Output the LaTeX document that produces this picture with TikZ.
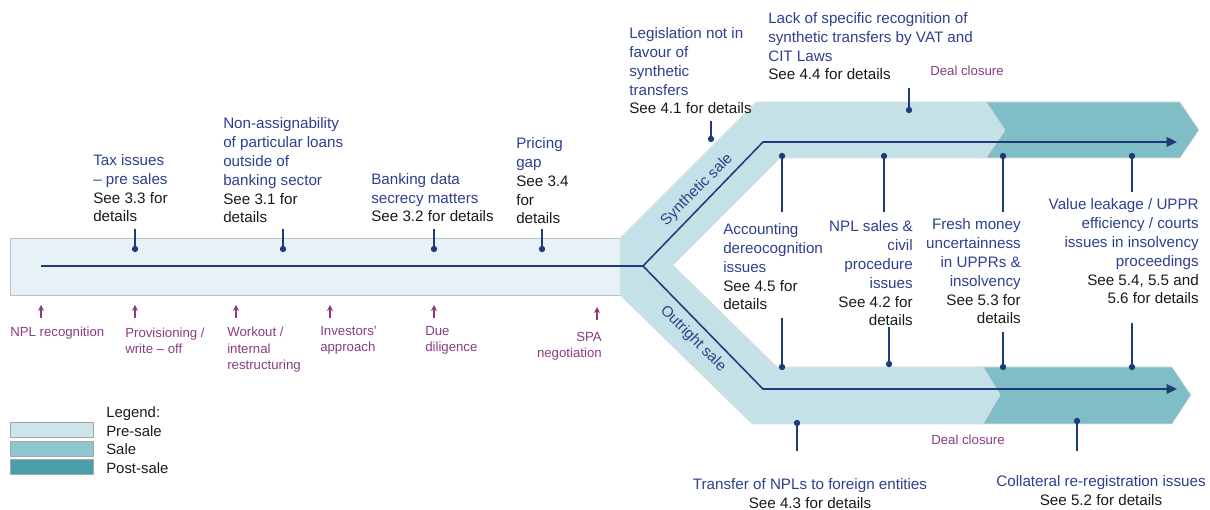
\documentclass[tikz,border=0pt]{standalone}
\usepackage{fontspec}
\setmainfont{Liberation Sans}
\usepackage{tikz}
\usetikzlibrary{arrows.meta}
\definecolor{barfill}{HTML}{E6F2F5}
\definecolor{bandlt}{HTML}{C4E1E7}
\definecolor{banddk}{HTML}{7FBDC7}
\definecolor{legpre}{HTML}{CCE6EB}
\definecolor{legsale}{HTML}{8EC6CF}
\definecolor{legpost}{HTML}{4B9EAC}
\definecolor{issblue}{HTML}{2E3F8F}
\definecolor{navy}{HTML}{1D3A7A}
\definecolor{milpurple}{HTML}{8A3B84}
\definecolor{seeblk}{HTML}{1A1A1A}
\newcommand{\issfont}{\fontsize{10.8}{13.5}\selectfont}
\newcommand{\milfont}{\fontsize{9.4}{11.8}\selectfont}
\newcommand{\seeref}[1]{\textcolor{seeblk}{#1}}
\tikzset{
  gdot/.style={circle, fill=navy, inner sep=0pt, minimum size=4.5pt},
  stemln/.style={navy, line width=1.1pt},
  tline/.style={navy, line width=1.1pt},
  tarr/.style={tline, -{Triangle[length=2.6mm, width=2.4mm]}},
  iss/.style={font=\issfont, text=issblue, inner sep=0pt, align=left},
  issr/.style={iss, align=right},
  issc/.style={iss, align=center},
  mil/.style={-{Stealth[length=1.5mm, width=1.5mm]}, milpurple, line width=0.8pt},
  mlab/.style={font=\milfont, text=milpurple, inner sep=0pt, align=left},
  barln/.style={draw=black!25, line width=0.5pt},
  bandln/.style={draw=black!12, line width=0.4pt},
  legbox/.style={draw=black!35, line width=0.4pt},
  legtxt/.style={font=\fontsize{10.6}{13}\selectfont, text=seeblk, inner sep=0pt, anchor=base west},
}
\begin{document}
\begin{tikzpicture}[x=0.025cm, y=-0.025cm]
  \useasboundingbox (0,0) rectangle (1210,510);

  % pre-sale bar
  \fill[barfill] (10,238) rectangle (640,295);
  \draw[barln] (640,238) -- (10,238) -- (10,295) -- (640,295);

  % synthetic branch
  \fill[banddk, bandln] (978,102) -- (1180,102) -- (1199,130) -- (1180,158) -- (978,158) -- cycle;
  \fill[bandlt, bandln] (620,238) -- (756,102) -- (986,102) -- (1005,130) -- (986,158)
    -- (780,158) -- (673,265) -- (620,265) -- cycle;
  % outright branch
  \fill[banddk, bandln] (975,367) -- (1172,367) -- (1191,395) -- (1172,424) -- (975,424) -- cycle;
  \fill[bandlt, bandln] (620,295) -- (752,424) -- (983,424) -- (1000,395) -- (983,367)
    -- (777,367) -- (673,265) -- (620,265) -- cycle;
  \fill[bandlt] (621,239) rectangle (640,294);

  % time lines
  \coordinate (lnStart) at (41,266);
  \coordinate (lnFork) at (643,266);
  \coordinate (synBend) at (763,142);
  \coordinate (synTip) at (1177,142);
  \coordinate (outBend) at (763,389);
  \coordinate (outTip) at (1177,389);
  \draw[tline] (lnStart) -- (lnFork);
  \draw[tarr] (lnFork) -- (synBend) -- (synTip);
  \draw[tarr] (lnFork) -- (outBend) -- (outTip);

  \node[font=\issfont, text=issblue, rotate=45] (synLab) at (697,190) {Synthetic sale};
  \node[font=\issfont, text=issblue, rotate=-45] (outLab) at (693,339) {Outright sale};

  % issue pins
  \foreach \nm/\px/\py/\ey in {tax/135/249/229, nonas/283/249/229, bank/434/249/229,
      price/542/249/229, legis/711/139/121, lack/909/110/88,
      accS/782/156/212, nplS/884/156/212, freshS/1003/156/212, valS/1132/156/192,
      accO/782/367/318, nplO/889/364/327, freshO/1003/367/332, valO/1132/367/323,
      trans/797/423/451, coll/1077/421/451}{
    \coordinate (e\nm) at (\px,\ey);
    \node[gdot] (d\nm) at (\px,\py) {};
    \draw[stemln] (e\nm) -- (d\nm);
  }

  % issue texts (anchored at the last line)
  \node[iss, anchor=base west] (taxTxt) at (93,222)
    {Tax issues\\– pre sales\\\seeref{See 3.3 for}\\\seeref{details}};
  \node[iss, anchor=base west] (nonasTxt) at (223,223)
    {Non-assignability\\of particular loans\\outside of\\banking sector\\\seeref{See 3.1 for}\\\seeref{details}};
  \node[iss, anchor=base west] (bankTxt) at (371,222)
    {Banking data\\secrecy matters\\\seeref{See 3.2 for details}};
  \node[iss, anchor=base west] (priceTxt) at (516,224)
    {Pricing\\gap\\\seeref{See 3.4}\\\seeref{for}\\\seeref{details}};
  \node[iss, anchor=base west] (legisTxt) at (629,114)
    {Legislation not in\\favour of\\synthetic\\transfers\\\seeref{See 4.1 for details}};
  \node[iss, anchor=base west] (lackTxt) at (768,80)
    {Lack of specific recognition of\\synthetic transfers by VAT and\\CIT Laws\\\seeref{See 4.4 for details}};
  \node[iss, anchor=base west] (accTxt) at (723,310)
    {Accounting\\dereocognition\\issues\\\seeref{See 4.5 for}\\\seeref{details}};
  \node[issr, anchor=base east] (nplTxt) at (913,326)
    {NPL sales \&\\civil\\procedure\\issues\\\seeref{See 4.2 for}\\\seeref{details}};
  \node[issr, anchor=base east] (freshTxt) at (1021,324)
    {Fresh money\\uncertainness\\in UPPRs \&\\insolvency\\\seeref{See 5.3 for}\\\seeref{details}};
  \node[issr, anchor=base east] (valTxt) at (1199,304)
    {Value leakage / UPPR\\efficiency / courts\\issues in insolvency\\proceedings\\\seeref{See 5.4, 5.5 and}\\\seeref{5.6 for details}};
  \node[issc, anchor=base] (transTxt) at (810,508)
    {Transfer of NPLs to foreign entities\\\seeref{See 4.3 for details}};
  \node[issc, anchor=base] (collTxt) at (1101,505)
    {Collateral re-registration issues\\\seeref{See 5.2 for details}};

  % milestones
  \foreach \nm/\px/\tx/\by/\txt in {npl/41/10/337/{NPL recognition},
      prov/135/125/354/{Provisioning /\\write – off},
      work/236/227/370/{Workout /\\internal\\restructuring},
      inv/330/320/352/{Investors'\\approach},
      due/434/425/352/{Due\\diligence}}{
    \coordinate (a\nm) at (\px,318);
    \coordinate (h\nm) at (\px,305);
    \draw[mil] (a\nm) -- (h\nm);
    \node[mlab, anchor=base west] (m\nm) at (\tx,\by) {\txt};
  }
  \coordinate (aspa) at (597,320);
  \coordinate (hspa) at (597,307);
  \draw[mil] (aspa) -- (hspa);
  \node[mlab, align=right, anchor=base east] (mspa) at (602,358) {SPA\\negotiation};
  \node[mlab, anchor=base] (closeSyn) at (967,76) {Deal closure};
  \node[mlab, anchor=base] (closeOut) at (968,444) {Deal closure};

  % legend
  \node[legtxt] (legHead) at (106,418) {Legend:};
  \draw[legbox, fill=legpre] (10,422) rectangle (93,437);
  \draw[legbox, fill=legsale] (10,441) rectangle (93,456);
  \draw[legbox, fill=legpost] (10,459) rectangle (93,474);
  \node[legtxt] (legPre) at (106,437) {Pre-sale};
  \node[legtxt] (legSale) at (106,455) {Sale};
  \node[legtxt] (legPost) at (106,473) {Post-sale};
\end{tikzpicture}
\end{document}
